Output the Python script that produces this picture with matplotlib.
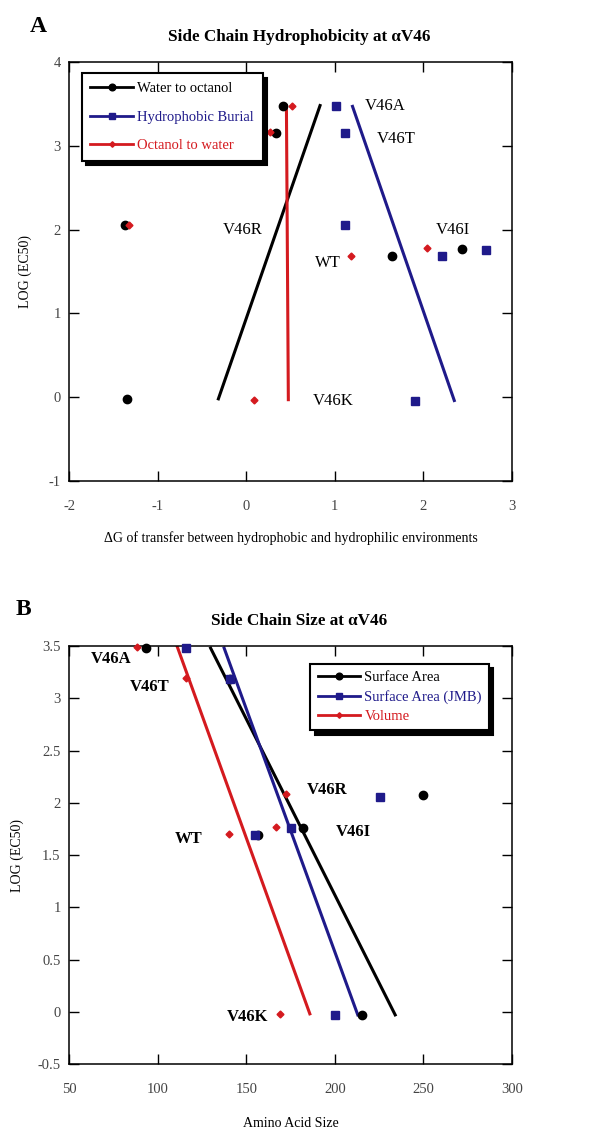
import numpy as np
import matplotlib.pyplot as plt
from matplotlib.ticker import FuncFormatter

plt.rcParams['font.family'] = ['Liberation Serif', 'DejaVu Serif']
plt.rcParams['axes.unicode_minus'] = False

BLACK = 'black'
BLUE = '#1f1a8a'
RED = '#d41a1f'

mutants = ['V46A', 'V46T', 'V46R', 'WT', 'V46I', 'V46K']

# Panel A: side chain hydrophobicity
logec50_a = {
    'Water to octanol': [3.48, 3.15, 2.06, 1.69, 1.77, -0.02],
    'Hydrophobic Burial': [3.47, 3.15, 2.05, 1.68, 1.76, -0.04],
    'Octanol to water': [3.48, 3.16, 2.06, 1.69, 1.78, -0.03],
}
dg_water_octanol = [0.42, 0.34, -1.37, 1.65, 2.44, -1.35]
dg_burial = [1.01, 1.11, 1.11, 2.21, 2.71, 1.91]
dg_octanol_water = [0.52, 0.27, -1.32, 1.18, 2.04, 0.085]

# Panel B: side chain size
logec50_b = {
    'Surface Area': [3.48, 3.18, 2.07, 1.69, 1.76, -0.03],
    'Surface Area (JMB)': [3.48, 3.18, 2.06, 1.69, 1.76, -0.03],
    'Volume': [3.49, 3.19, 2.08, 1.70, 1.77, -0.02],
}
size_surface = [93.5, 141, 250, 156.6, 182, 215.4]
size_surface_jmb = [116, 141, 225.3, 155, 175.4, 200.3]
size_volume = [88.6, 116, 172.6, 140.2, 166.6, 168.8]

# label positions (data coords) for mutant names
labels_a = [(1.57, 3.47), (1.69, 3.08), (-0.04, 2.0), (0.92, 1.6), (2.33, 2.0), (0.98, -0.04)]
labels_b = [(73.7, 3.38), (95.4, 3.11), (195.6, 2.12), (117.4, 1.65), (210.6, 1.72), (151, -0.05)]


def fit_line(ax, x, y, color):
    # regression of x on y, drawn over the y range of the data
    b, a = np.polyfit(y, x, 1)
    yy = np.array([min(y), max(y)])
    ax.plot(a + b * yy, yy, '-', color=color, lw=2.2, zorder=2)


def style_axes(ax):
    ax.tick_params(direction='in', length=7, width=1, top=True, right=True,
                   labelsize=10.5, labelcolor='#444444', pad=6)
    ax.tick_params(axis='x', pad=14)
    for s in ax.spines.values():
        s.set_linewidth(1.1)
    ax.yaxis.set_major_formatter(FuncFormatter(lambda v, p: '%g' % v))
    ax.xaxis.set_major_formatter(FuncFormatter(lambda v, p: '%g' % v))


fig = plt.figure(figsize=(5.91, 11.33), dpi=100)

# ---------------- Panel A
axA = fig.add_axes([0.1168, 0.5755, 0.7496, 0.3698])
series_a = [
    ('Water to octanol', dg_water_octanol, BLACK, 'o', 6),
    ('Hydrophobic Burial', dg_burial, BLUE, 's', 5.5),
    ('Octanol to water', dg_octanol_water, RED, 'D', 3.5),
]
for name, x, c, m, ms in series_a:
    y = logec50_a[name]
    axA.plot(x, y, ls='none', marker=m, color=c, ms=ms, zorder=3)
    fit_line(axA, x, y, c)
    axA.plot([], [], '-', marker=m, color=c, ms=ms * 0.8, lw=2, label=name)
for name, (lx, ly) in zip(mutants, labels_a):
    axA.text(lx, ly, name, ha='center', va='center', fontsize=12)
axA.set_xlim(-2, 3)
axA.set_ylim(-1, 4)
axA.set_xticks([-2, -1, 0, 1, 2, 3])
axA.set_yticks([-1, 0, 1, 2, 3, 4])
style_axes(axA)
axA.set_xlabel('\u0394G of transfer between hydrophobic and hydrophilic environments',
               fontsize=10, labelpad=13)
axA.set_ylabel('LOG (EC50)', fontsize=10, labelpad=12)
axA.set_title('Side Chain Hydrophobicity at \u03b1V46', fontsize=12.3, fontweight='bold',
              pad=15, x=0.52)
legA = axA.legend(loc='upper left', bbox_to_anchor=(0.012, 0.99), fontsize=10.5,
                  handlelength=2.9, labelspacing=1.05, borderpad=0.6, handletextpad=0.3,
                  fancybox=False, framealpha=1, edgecolor='black',
                  shadow={'color': 'black', 'alpha': 1, 'ox': 3, 'oy': -3})
legA.get_frame().set_linewidth(1.5)
for t, (_, _, c, _, _) in zip(legA.get_texts(), series_a):
    t.set_color(c)
fig.text(0.064, 0.977, 'A', fontsize=17, fontweight='bold', ha='center', va='center')

# ---------------- Panel B
axB = fig.add_axes([0.1168, 0.0609, 0.7496, 0.3689])
series_b = [
    ('Surface Area', size_surface, BLACK, 'o', 6),
    ('Surface Area (JMB)', size_surface_jmb, BLUE, 's', 5.5),
    ('Volume', size_volume, RED, 'D', 3.5),
]
for name, x, c, m, ms in series_b:
    y = logec50_b[name]
    axB.plot(x, y, ls='none', marker=m, color=c, ms=ms, zorder=3, clip_on=False)
    fit_line(axB, x, y, c)
    axB.plot([], [], '-', marker=m, color=c, ms=ms * 0.8, lw=2, label=name)
for name, (lx, ly) in zip(mutants, labels_b):
    axB.text(lx, ly, name, ha='center', va='center', fontsize=12, fontweight='bold')
axB.set_xlim(50, 300)
axB.set_ylim(-0.5, 3.5)
axB.set_xticks([50, 100, 150, 200, 250, 300])
axB.set_yticks([-0.5, 0, 0.5, 1, 1.5, 2, 2.5, 3, 3.5])
style_axes(axB)
axB.set_xlabel('Amino Acid Size', fontsize=10, labelpad=15)
axB.set_ylabel('LOG (EC50)', fontsize=10, labelpad=10)
axB.set_title('Side Chain Size at \u03b1V46', fontsize=12.3, fontweight='bold',
              pad=15, x=0.52)
legB = axB.legend(loc='upper right', bbox_to_anchor=(0.965, 0.975), fontsize=10.5,
                  handlelength=2.9, labelspacing=0.4, borderpad=0.5, handletextpad=0.3,
                  fancybox=False, framealpha=1, edgecolor='black',
                  shadow={'color': 'black', 'alpha': 1, 'ox': 3, 'oy': -3})
legB.get_frame().set_linewidth(1.5)
for t, (_, _, c, _, _) in zip(legB.get_texts(), series_b):
    t.set_color(c)
fig.text(0.039, 0.462, 'B', fontsize=17, fontweight='bold', ha='center', va='center')

fig.savefig('out.png', dpi=100)
